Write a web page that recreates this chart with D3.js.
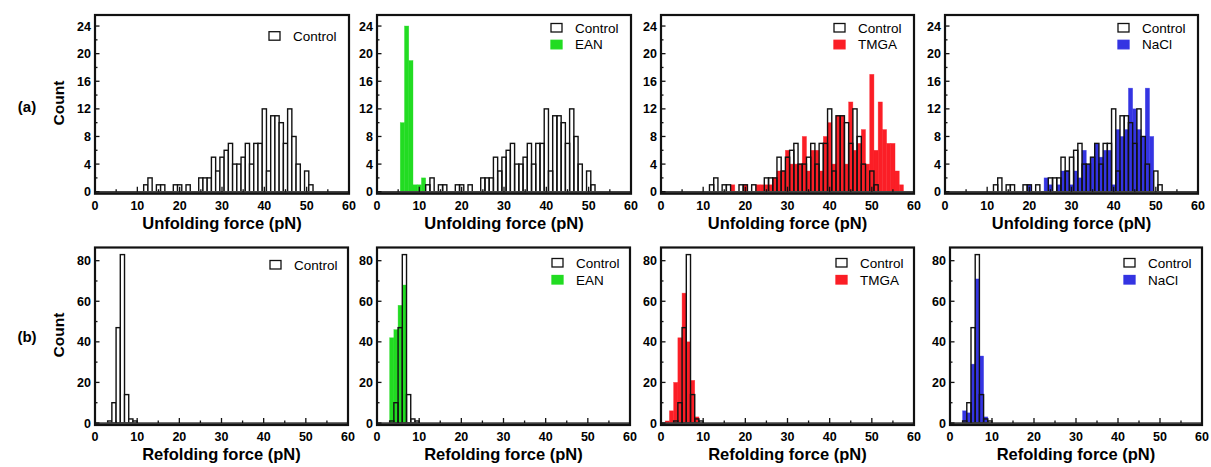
<!DOCTYPE html>
<html>
<head>
<meta charset="utf-8">
<script src="https://cdn.jsdelivr.net/npm/d3@7/dist/d3.min.js"></script>
<style>
  body { margin: 0; background: #fff; }
  text { font-family: Arial, "Liberation Sans", sans-serif; }
</style>
</head>
<body>
<svg id="chart" width="1211" height="467"></svg>
<script>
// bin centres (pN), width 1
const unfoldBins = [12,13,14,15,16,17,18,19,20,21,22,23,24,25,26,27,28,29,30,31,32,33,34,
                    35,36,37,38,39,40,41,42,43,44,45,46,47,48,49,50,51,52,53,54,55,56,57];
const controlUnfold = [1,2,0,1,1,0,0,1,1,0,1,0,0,2,2,2,5,3,5,6,7,4,4,5,7,4,7,7,12,3,11,11,10,7,12,8,4,0,3,1,0,0,0,0,0,0];
const tmgaUnfold    = [0,0,0,0,0,1,0,0,1,0,0,1,1,1,1,2,3,3,6,4,4,4,8,3,6,6,3,8,10,4,11,11,4,13,6,7,9,4,17,6,13,9,7,7,3,1];
const naclUnfold    = [0,0,0,0,0,0,0,0,1,0,0,0,2,1,0,1,3,3,1,3,2,6,4,5,7,5,6,6,1,9,8,9,15,12,9,8,15,8,0,0,0,0,0,0,0,0];
const eanUnfoldBins = [6,7,8,9,10,11];
const eanUnfold     = [10,24,19,1,1,2];

const refoldBins    = [1.5,2.5,3.5,4.5,5.5,6.5,7.5,8.5,9.5];
const controlRefold = [0,0,1,10,47,83,14,2,1];
const eanRefold     = [0,0,42,46,58,68,0,0,0];
const tmgaRefold    = [1,6,20,42,64,40,21,3,0];
const naclRefold    = [0,0,6,5,29,71,33,3,0];

const xTicks = [0,10,20,30,40,50,60];
const unfoldYTicks = [0,4,8,12,16,20,24];
const refoldYTicks = [0,20,40,60,80];

const GREEN = "#22dc22", RED = "#fb1e26", BLUE = "#3434e2";

const svg = d3.select("#chart");

const rows = [
  { top: 15, zero: 191.7, ymax: 25.6, ticks: unfoldYTicks, minor: 2, title: "Unfolding force (pN)",
    lx: [349, 631, 914, 1198], x0: [95, 377, 661, 945], legY1: 31.7, legY2: [23.5, 40.3], legDx: 80 },
  { top: 247.5, zero: 423, ymax: 86.5, ticks: refoldYTicks, minor: 10, title: "Refolding force (pN)",
    lx: [348, 630, 914, 1202], x0: [95, 377, 661, 950], legY1: 260.5, legY2: [258.5, 275.5], legDx: 78 }
];

const treat = [
  null,
  { name: "EAN", color: GREEN, ub: eanUnfoldBins, u: eanUnfold, r: eanRefold },
  { name: "TMGA", color: RED, ub: unfoldBins, u: tmgaUnfold, r: tmgaRefold },
  { name: "NaCl", color: BLUE, ub: unfoldBins, u: naclUnfold, r: naclRefold }
];

function toBars(bins, vals) {
  return bins.map((b, i) => ({ c: b, v: vals[i] })).filter(d => d.v > 0);
}

rows.forEach((row, ri) => {
  for (let p = 0; p < 4; p++) {
    const x = d3.scaleLinear().domain([0, 60]).range([row.x0[p], row.lx[p]]);
    const y = d3.scaleLinear().domain([0, row.ymax]).range([row.zero, row.top]);
    const g = svg.append("g");

    const ctrl = ri === 0 ? toBars(unfoldBins, controlUnfold) : toBars(refoldBins, controlRefold);
    const t = treat[p];

    // treatment bars first, control outline on top
    if (t) {
      const tb = ri === 0 ? toBars(t.ub, t.u) : toBars(refoldBins, t.r);
      g.selectAll("rect.t").data(tb).enter().append("rect")
        .attr("x", d => x(d.c - 0.5))
        .attr("width", d => x(d.c + 0.5) - x(d.c - 0.5))
        .attr("y", d => y(d.v))
        .attr("height", d => y(0) - y(d.v))
        .attr("fill", t.color)
        .attr("stroke", t.color)
        .attr("stroke-opacity", 0.6)
        .attr("stroke-width", 0.6);
    }
    g.selectAll("rect.c").data(ctrl).enter().append("rect")
      .attr("x", d => x(d.c - 0.5))
      .attr("width", d => x(d.c + 0.5) - x(d.c - 0.5))
      .attr("y", d => y(d.v))
      .attr("height", d => y(0) - y(d.v))
      .attr("fill", t ? "none" : "#fff")
      .attr("stroke", "#111")
      .attr("stroke-width", 1.4);

    // thick zero line
    g.append("line")
      .attr("x1", x(0)).attr("x2", x(60))
      .attr("y1", y(0) + 0.8).attr("y2", y(0) + 0.8)
      .attr("stroke", "#444").attr("stroke-width", 3);

    // frame
    g.append("rect")
      .attr("x", x(0)).attr("y", row.top)
      .attr("width", x(60) - x(0)).attr("height", y(0) + 2 - row.top)
      .attr("fill", "none").attr("stroke", "#111").attr("stroke-width", 2.2);

    // x ticks (inward)
    const xMinor = [5, 15, 25, 35, 45, 55];
    g.selectAll("line.xt").data(xTicks).enter().append("line")
      .attr("x1", d => x(d)).attr("x2", d => x(d))
      .attr("y1", y(0)).attr("y2", y(0) - 5)
      .attr("stroke", "#111").attr("stroke-width", 1.3);
    g.selectAll("line.xm").data(xMinor).enter().append("line")
      .attr("x1", d => x(d)).attr("x2", d => x(d))
      .attr("y1", y(0)).attr("y2", y(0) - 2.5)
      .attr("stroke", "#111").attr("stroke-width", 1.3);
    g.selectAll("text.xl").data(xTicks).enter().append("text")
      .attr("x", d => x(d)).attr("y", row.zero + 17.8)
      .attr("text-anchor", "middle")
      .attr("font-size", 12.5).attr("font-weight", "bold")
      .text(d => d);

    // y ticks (inward)
    const yMinor = row.ticks.slice(0, -1).map(d => d + row.minor);
    g.selectAll("line.yt").data(row.ticks).enter().append("line")
      .attr("x1", x(0)).attr("x2", x(0) + 4.5)
      .attr("y1", d => y(d)).attr("y2", d => y(d))
      .attr("stroke", "#111").attr("stroke-width", 1.3);
    g.selectAll("line.ym").data(yMinor).enter().append("line")
      .attr("x1", x(0)).attr("x2", x(0) + 2.5)
      .attr("y1", d => y(d)).attr("y2", d => y(d))
      .attr("stroke", "#111").attr("stroke-width", 1.3);
    g.selectAll("text.yl").data(row.ticks).enter().append("text")
      .attr("x", x(0) - 4).attr("y", d => y(d))
      .attr("dy", "0.36em")
      .attr("text-anchor", "end")
      .attr("font-size", 12.5).attr("font-weight", "bold")
      .text(d => d);

    // axis title
    g.append("text")
      .attr("x", (x(0) + x(60)) / 2).attr("y", row.zero + 37)
      .attr("text-anchor", "middle")
      .attr("font-size", 16.5).attr("font-weight", "bold")
      .text(row.title);

    // legend
    const lx = row.lx[p] - row.legDx;
    const items = t ? [{ name: "Control", fill: "#fff" }, { name: t.name, fill: t.color }]
                    : [{ name: "Control", fill: "#fff" }];
    items.forEach((it, k) => {
      const ly = t ? row.legY2[k] : row.legY1;
      g.append("rect")
        .attr("x", lx).attr("y", ly)
        .attr("width", 11).attr("height", 8.5)
        .attr("fill", it.fill)
        .attr("stroke", k === 0 ? "#111" : it.fill)
        .attr("stroke-width", 1.3);
      g.append("text")
        .attr("x", lx + 24).attr("y", ly + 9)
        .attr("font-size", 13.5)
        .text(it.name);
    });
  }
});

// y titles and row labels
[[103, "(a)", 112], [335, "(b)", 342]].forEach(([cy, lab, ly]) => {
  svg.append("text")
    .attr("transform", `translate(64,${cy}) rotate(-90)`)
    .attr("text-anchor", "middle")
    .attr("font-size", 15.5).attr("font-weight", "bold")
    .text("Count");
  svg.append("text")
    .attr("x", 27).attr("y", ly)
    .attr("text-anchor", "middle")
    .attr("font-size", 15).attr("font-weight", "bold")
    .text(lab);
});
</script>
</body>
</html>
